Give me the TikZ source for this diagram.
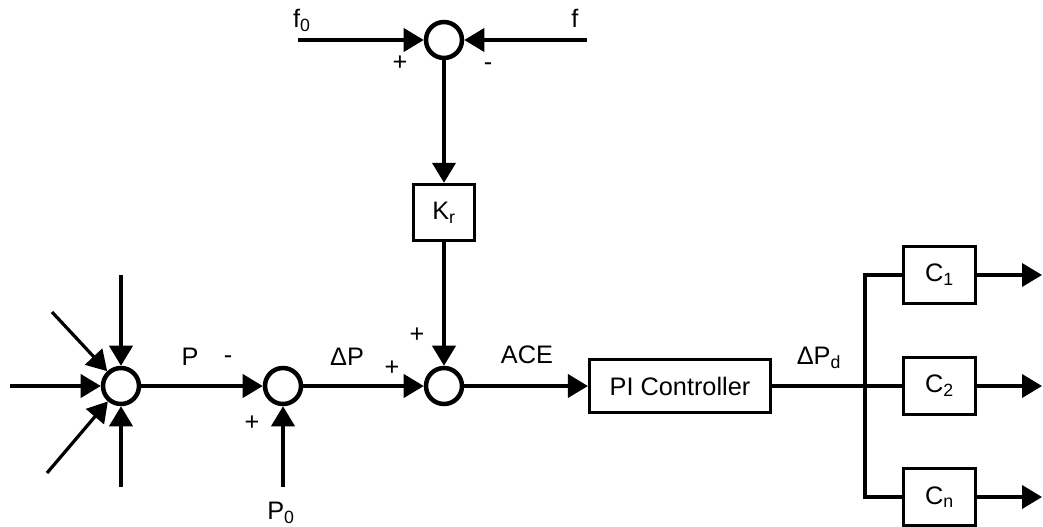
\documentclass[tikz,border=0pt]{standalone}
\usepackage{fontspec}
\setmainfont{Liberation Sans}
\usetikzlibrary{arrows.meta}
\tikzset{
  sumj/.style  = {circle, draw=black, line width=3.2pt,
                  minimum size=0.9cm, inner sep=0pt},
  block/.style = {rectangle, draw=black, line width=2.1pt,
                  text centered, inner sep=0pt,
                  font=\fontsize{18}{20}\selectfont},
  lbl/.style   = {inner sep=0pt, font=\fontsize{18}{20}\selectfont},
  arr/.style   = {-{Triangle[length=0.5cm, width=0.58cm]}, line width=2.3pt},
  wire/.style  = {line width=2.3pt},
}
\begin{document}
\begin{tikzpicture}[x=0.025cm, y=-0.025cm]
\useasboundingbox (0,0) rectangle (1043,526);

%% ── Summing junctions ─────────────────────────────────────
\node[sumj] (s1) at (121,386) {};
\node[sumj] (s2) at (283,386) {};
\node[sumj] (s3) at (444,386) {};
\node[sumj] (s0) at (444,40)  {};

%% ── Blocks ────────────────────────────────────────────────
\node[block, minimum width=1.53cm, minimum height=1.41cm] (kr) at (444,212.5) {K\textsubscript{r}};
\node[block, minimum width=4.53cm, minimum height=1.33cm] (pi) at (680,386) {PI Controller};
\node[block, minimum width=1.81cm, minimum height=1.43cm] (c1) at (939.5,275) {C\textsubscript{1}};
\node[block, minimum width=1.81cm, minimum height=1.43cm] (c2) at (939.5,386) {C\textsubscript{2}};
\node[block, minimum width=1.81cm, minimum height=1.43cm] (cn) at (939.5,497) {C\textsubscript{n}};

%% ── Free ends ─────────────────────────────────────────────
\coordinate (inl) at (10,386);
\coordinate (inu) at (121,275);
\coordinate (ind) at (121,487);
\coordinate (inul) at (52,312);
\coordinate (indl) at (47,473);
\coordinate (p0) at (283,487);
\coordinate (f0) at (298,40);
\coordinate (f)  at (587,40);
\coordinate (br) at (865,386);
\coordinate (o1) at (1042,275);
\coordinate (o2) at (1042,386);
\coordinate (on) at (1042,497);

%% ── Labels ────────────────────────────────────────────────
\node[lbl] (lp)   at (190,357) {P};
\node[lbl] (lm2)  at (228,360) {-};
\node[lbl] (lpl2) at (252,423) {+};
\node[lbl] (lp0)  at (281,513) {P\textsubscript{0}};
\node[lbl] (ldp)  at (347,357) {ΔP};
\node[lbl] (lpl3) at (392,368) {+};
\node[lbl] (lpt3) at (417,335) {+};
\node[lbl] (lace) at (527,355) {ACE};
\node[lbl] (ldpd) at (819,358) {ΔP\textsubscript{d}};
\node[lbl] (lf0)  at (302,20)  {f\textsubscript{0}};
\node[lbl] (lf)   at (575,18)  {f};
\node[lbl] (lpl0) at (400,63)  {+};
\node[lbl] (lm0)  at (488,67)  {-};

%% ── Arrows: inputs → first junction ───────────────────────
\draw[arr] (inl)  -- (s1);
\draw[arr] (inu)  -- (s1);
\draw[arr] (ind)  -- (s1);
\draw[arr] (inul) -- (s1);
\draw[arr] (indl) -- (s1);

%% ── Arrows: main path ─────────────────────────────────────
\draw[arr] (s1) -- (s2);
\draw[arr] (p0) -- (s2);
\draw[arr] (s2) -- (s3);
\draw[arr] (s3) -- (pi);

%% ── Arrows: frequency bias ────────────────────────────────
\draw[arr] (f0) -- (s0);
\draw[arr] (f)  -- (s0);
\draw[arr] (s0) -- (kr);
\draw[arr] (kr) -- (s3);

%% ── Distribution to plants ────────────────────────────────
\draw[wire] (pi) -- (c2);
\draw[wire] (c1) -| (br) |- (cn);
\draw[arr] (c1) -- (o1);
\draw[arr] (c2) -- (o2);
\draw[arr] (cn) -- (on);

\end{tikzpicture}
\end{document}
